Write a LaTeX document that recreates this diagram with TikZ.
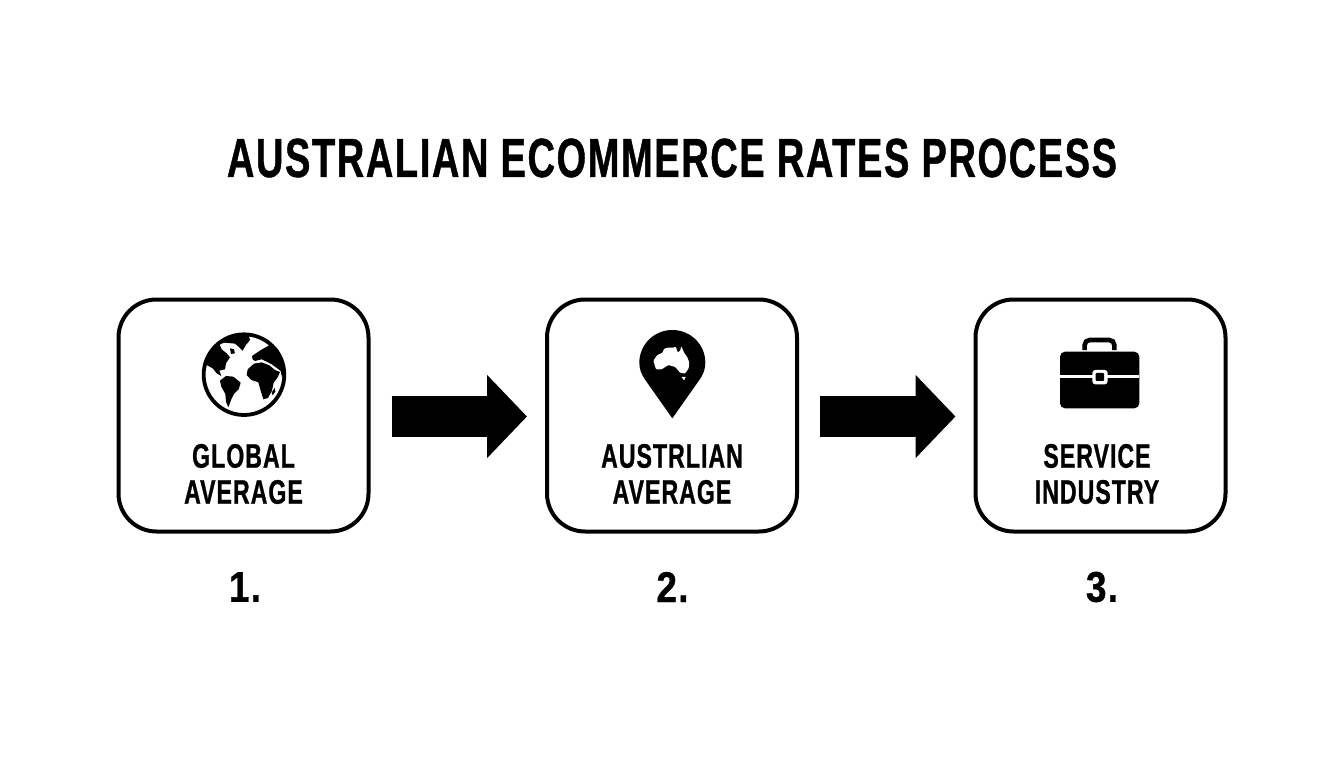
\documentclass[tikz,border=0pt]{standalone}
\usepackage{fontspec}
\usetikzlibrary{arrows.meta}
\newfontfamily\titlefont[FakeStretch=0.69,LetterSpace=3.0,FakeBold=0.8]{Liberation Sans Bold}
\newfontfamily\lblfont[FakeStretch=0.68,LetterSpace=3.0,FakeBold=0.8]{Liberation Sans Bold}
\newfontfamily\numfont[FakeStretch=0.86,LetterSpace=3.0,FakeBold=0.8]{Liberation Sans Bold}
\tikzset{
 card/.style={draw=black,line width=4pt,rounded corners=38pt,minimum width=250pt,minimum height=232pt,inner sep=0pt,fill=white},
 flow/.style={draw=black,line width=41pt,-{Triangle[length=40pt,width=81pt]},shorten <=21pt,shorten >=18pt},
 cardtext/.style={font=\lblfont\fontsize{34}{36}\selectfont,align=center,inner sep=0pt,text=black},
 numtext/.style={font=\numfont\fontsize{43}{46}\selectfont,inner sep=0pt,text=black},
 titletext/.style={font=\titlefont\fontsize{55}{60}\selectfont,inner sep=0pt,text=black},
 zoomA/.style={shift={(180pt,-320pt)},x=0.3333pt,y=-0.3333pt},
 zoomB/.style={shift={(620pt,-320pt)},x=0.3333pt,y=-0.3333pt},
 zoomC/.style={shift={(1040pt,-325pt)},x=0.3333pt,y=-0.3333pt},
}
\begin{document}
\begin{tikzpicture}[x=1pt,y=-1pt]
\useasboundingbox (0,0) rectangle (1344,768);
\fill[white] (0,0) rectangle (1344,768);
\node[titletext] (title) at (672,158) {AUSTRALIAN ECOMMERCE RATES PROCESS};
\node[card] (c1) at (243.5,415.5) {};
\node[card] (c2) at (672,415.5) {};
\node[card] (c3) at (1100.5,415.5) {};
\draw[flow] ([yshift=-1pt]c1.east) -- ([yshift=-1pt]c2.west);
\draw[flow] ([yshift=-1pt]c2.east) -- ([yshift=-1pt]c3.west);
\node[cardtext] (t1) at (243.5,474) {GLOBAL\\AVERAGE};
\node[cardtext] (t2) at (672,474) {AUSTRLIAN\\AVERAGE};
\node[cardtext] (t3) at (1097,474) {SERVICE\\INDUSTRY};
\node[numtext] (n1) at (245,587) {1.};
\node[numtext] (n2) at (672.5,587) {2.};
\node[numtext] (n3) at (1102,587) {3.};
% globe
\begin{scope}[zoomA]
\draw[black,line width=3.8pt] (192,164) circle (121);
% north america and arctic band
\fill[black] (72,150) -- (80,110) -- (105,75) -- (135,55) -- (180,42) -- (205,44) -- (210,60) -- (197,76) -- (188,92) -- (178,82) -- (165,71) -- (135,68) -- (118,72) -- (125,88) -- (140,100) -- (150,112) -- (138,130) -- (135,148) -- (118,152) -- (124,168) -- (110,160) -- (98,145) -- (80,135) -- cycle;
\fill[black] (150,85) -- (162,88) -- (165,100) -- (153,102) -- cycle;
% eurasia
\fill[black] (216,108) -- (228,100) -- (241,91) -- (271,74) -- (262,58) -- (295,90) -- (310,130) -- (314,170) -- (306,172) -- (302,153) -- (292,145) -- (275,133) -- (262,126) -- (245,118) -- (225,123) -- (218,118) -- cycle;
% africa
\fill[black] (203,148) -- (222,131) -- (245,127) -- (268,136) -- (285,150) -- (300,156) -- (293,172) -- (281,188) -- (276,212) -- (264,234) -- (250,238) -- (243,215) -- (235,187) -- (214,180) -- (200,165) -- cycle;
% south america
\fill[black] (120,182) -- (138,168) -- (160,170) -- (182,188) -- (176,208) -- (162,222) -- (154,238) -- (145,262) -- (138,245) -- (136,222) -- (124,200) -- cycle;
\fill[black] (284,204) -- (286,215) -- (278,226) -- (275,218) -- cycle;
\end{scope}
% pin
\begin{scope}[zoomB]
\fill[black] (157,295) -- (76,180) .. controls (64,163) and (58,148) .. (58,128) .. controls (58,74) and (102,30) .. (157,30) .. controls (212,30) and (256,74) .. (256,128) .. controls (256,148) and (250,163) .. (238,180) -- cycle;
\fill[white,rounded corners=1pt] (100,122) -- (112,105) -- (128,98) -- (132,86) -- (148,82) -- (156,84) -- (168,80) -- (172,97) -- (180,94) -- (184,78) -- (192,98) -- (202,112) -- (208,128) -- (206,145) -- (195,161) -- (180,158) -- (166,141) -- (145,135) -- (125,148) -- (108,148) -- cycle;
\fill[white] (185,171) -- (197,171) -- (192,181) -- cycle;
\end{scope}
% briefcase
\begin{scope}[zoomC]
\draw[black,line width=4.6pt,rounded corners=5pt] (134,75) -- (134,45) -- (223,45) -- (223,75);
\fill[black,rounded corners=5pt] (60,80) rectangle (298,250);
\fill[white] (60,149) rectangle (298,158);
\fill[white,rounded corners=3pt] (157,135) rectangle (203,178);
\fill[black,rounded corners=1pt] (167,144) rectangle (192,168);
\end{scope}
\end{tikzpicture}
\end{document}
